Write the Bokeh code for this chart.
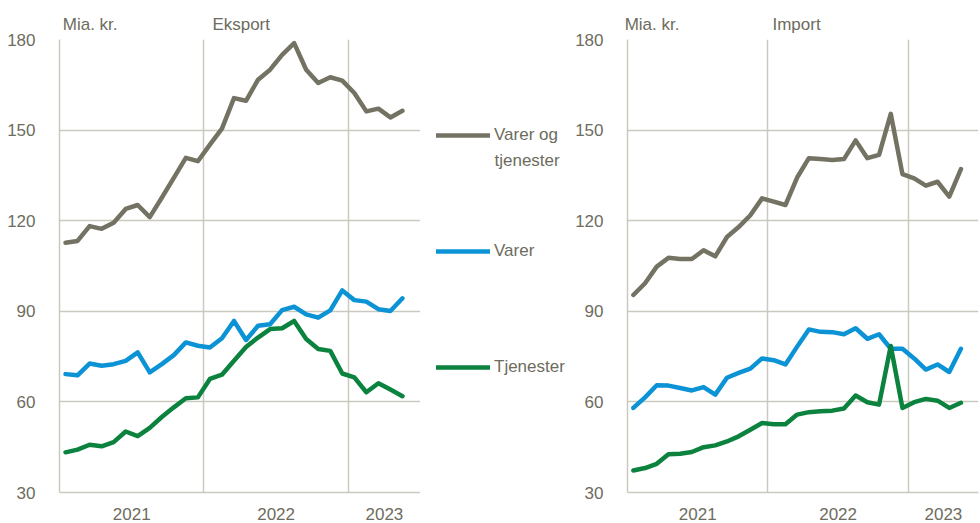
from bokeh.plotting import figure
from bokeh.models import (ColumnDataSource, FixedTicker, Label, Legend, LegendItem,
                          LinearAxis, Range1d)
from bokeh.layouts import row
from bokeh.embed import file_html
from bokeh.resources import INLINE

# month index (0 = Jan 2021), points plotted mid-month
months = [i + 0.5 for i in range(29)]

eksport_total = [112.7, 113.3, 118.2, 117.3, 119.3, 123.9, 125.2, 121.2, 127.6, 134.2,
                 140.8, 139.7, 145.2, 150.5, 160.6, 159.7, 166.7, 170.0, 174.9, 178.8,
                 170.0, 165.6, 167.5, 166.4, 162.3, 156.2, 157.1, 154.2, 156.4]
eksport_varer = [69.2, 68.8, 72.7, 72.0, 72.5, 73.6, 76.4, 69.8, 72.5, 75.5,
                 79.7, 78.6, 78.0, 81.1, 86.8, 80.5, 85.2, 85.7, 90.4, 91.5,
                 89.0, 87.9, 90.3, 96.9, 93.7, 93.2, 90.7, 90.1, 94.3]
eksport_tjen = [43.3, 44.2, 45.8, 45.3, 46.7, 50.2, 48.7, 51.4, 55.0, 58.2,
                61.2, 61.5, 67.6, 69.0, 73.6, 78.2, 81.3, 84.1, 84.4, 86.8,
                80.8, 77.5, 76.9, 69.4, 68.1, 63.2, 66.2, 64.1, 61.9]

import_total = [95.4, 99.3, 104.8, 107.7, 107.3, 107.3, 110.2, 108.2, 114.6, 117.9,
                121.8, 127.4, 126.3, 125.2, 134.3, 140.7, 140.4, 140.1, 140.4, 146.6,
                140.7, 141.8, 155.4, 135.4, 134.0, 131.6, 132.9, 128.0, 137.1]
import_varer = [58.0, 61.5, 65.5, 65.4, 64.6, 63.8, 64.9, 62.4, 68.0, 69.6,
                71.0, 74.4, 73.8, 72.4, 78.3, 84.0, 83.2, 83.1, 82.4, 84.4,
                80.9, 82.4, 77.6, 77.6, 74.4, 70.7, 72.4, 69.9, 77.6]
import_tjen = [37.3, 38.1, 39.5, 42.7, 42.8, 43.4, 45.0, 45.6, 46.9, 48.6,
               50.8, 53.0, 52.6, 52.6, 55.8, 56.6, 56.9, 57.1, 57.8, 62.1,
               59.9, 59.1, 78.5, 58.0, 59.9, 61.0, 60.4, 58.0, 59.7]

year_ticks = [6, 18, 27]
year_labels = ["2021", "2022", "2023"]
year_bounds = [12, 24]
y_ticks = [30, 60, 90, 120, 150, 180]

unit_label = "Mia. kr."
legend_labels = ["Varer og", "Varer", "Tjenester"]
legend_label_cont = "tjenester"
colors = ["#747262", "#0c93d6", "#0b833f"]

TEXT = "#6d6c5e"
GRID = "#cbc9bf"
FONT = "Liberation Sans"
FS = "17px"
H = 523
TOP = 39
BOTTOM = 31


def style_text(obj, prefix):
    setattr(obj, prefix + "text_color", TEXT)
    setattr(obj, prefix + "text_font", FONT)
    setattr(obj, prefix + "text_font_size", FS)


def make_panel(title, head_ticks, data, width, border_left, border_right):
    p = figure(width=width, height=H, output_backend="svg", toolbar_location=None,
               x_range=Range1d(0, 30), y_range=Range1d(30, 180),
               min_border_left=border_left, min_border_right=border_right,
               min_border_top=TOP, min_border_bottom=BOTTOM)
    p.outline_line_color = None

    src = ColumnDataSource(dict(x=months, a=data[0], b=data[1], c=data[2]))
    for col, color in zip(["a", "b", "c"], colors):
        p.line("x", col, source=src, line_color=color, line_width=4.5,
               line_join="round", line_cap="round")

    for ax in (p.xaxis[0], p.yaxis[0]):
        ax.axis_line_color = GRID
        ax.axis_line_width = 1.5
        ax.major_tick_line_color = None
        ax.minor_tick_line_color = None
        style_text(ax, "major_label_")
    p.xaxis.ticker = FixedTicker(ticks=year_ticks)
    p.xaxis.major_label_overrides = {t: l for t, l in zip(year_ticks, year_labels)}
    p.xaxis.major_label_standoff = 9
    p.yaxis.ticker = FixedTicker(ticks=y_ticks)
    p.yaxis.major_label_standoff = 18

    # header texts ("Mia. kr." and panel title) as labels of an axis above the frame
    head = LinearAxis(ticker=FixedTicker(ticks=head_ticks),
                      major_label_overrides={head_ticks[0]: unit_label, head_ticks[1]: title},
                      axis_line_color=None, major_tick_line_color=None,
                      minor_tick_line_color=None, major_label_standoff=0)
    style_text(head, "major_label_")
    p.add_layout(head, "above")

    p.xgrid.ticker = FixedTicker(ticks=year_bounds)
    p.ygrid.ticker = FixedTicker(ticks=y_ticks[1:])
    p.xgrid.grid_line_color = GRID
    p.ygrid.grid_line_color = GRID
    p.xgrid.grid_line_width = 1.5
    p.ygrid.grid_line_width = 1.5
    return p, src


left, left_src = make_panel("Eksport", [2.55, 15.1],
                            [eksport_total, eksport_varer, eksport_tjen], 420, 59, 0)
right, _ = make_panel("Import", [2.1, 14.45],
                      [import_total, import_varer, import_tjen], 408, 51, 2)

# middle legend panel (renderers lie outside its visible range; only the legend shows)
mid = figure(width=152, height=H, output_backend="svg", toolbar_location=None,
             x_range=Range1d(100, 101), y_range=Range1d(0, 1),
             x_axis_type=None, y_axis_type=None,
             min_border_left=0, min_border_right=0,
             min_border_top=TOP, min_border_bottom=BOTTOM)
mid.outline_line_color = None
mid.grid.visible = False
rends = [mid.line("x", col, source=left_src, line_color=color, line_width=4.5,
                  line_cap="round")
         for col, color in zip(["a", "b", "c"], colors)]
items = [LegendItem(label=n, renderers=[r]) for n, r in zip(legend_labels, rends)]
leg = Legend(items=items, location=(16, 115), orientation="vertical",
             glyph_width=54, glyph_height=20, label_height=20, label_standoff=4,
             spacing=96, padding=0, margin=0,
             label_text_font=FONT, label_text_font_size=FS, label_text_color=TEXT,
             background_fill_alpha=0, border_line_color=None)
mid.add_layout(leg, "center")
mid.add_layout(Label(x=74, y=H - BOTTOM - 160, x_units="screen", y_units="screen",
                     text=legend_label_cont, text_baseline="middle",
                     text_color=TEXT, text_font=FONT, text_font_size=FS))

layout = row(left, mid, right)
open("out.html", "w").write(file_html(layout, INLINE))
